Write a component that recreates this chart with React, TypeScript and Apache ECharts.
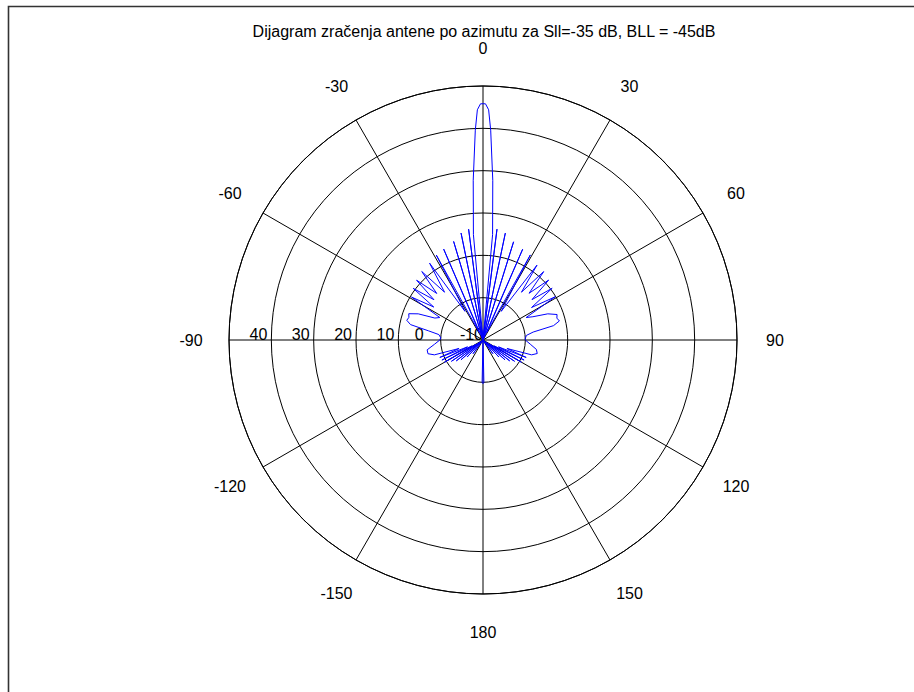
import React, { useEffect, useRef } from 'react';
import * as echarts from 'echarts';

const TITLE = 'Dijagram zračenja antene po azimutu za Sll=-35 dB, BLL = -45dB';

// [azimuth (deg), level (dB)]
const frontLeft: [number, number][] = [
  [-90, 0.2], [-87, 0], [-83, 0.5], [-80.5, 3], [-78, 7.5], [-75.5, 8.6], [-73, 8.3], [-70.5, 8.6],
  [-68, 6.5], [-65.5, 2.5], [-62.5, 1.5], [-59, 9.7], [-56.2, 4], [-53.5, 10.5], [-50.6, 5],
  [-48, 11.1], [-44.8, 5.5], [-41.8, 11.7], [-38.8, 4.5], [-34.8, 12.1], [-32.2, -2], [-28.8, 12.9],
  [-26.2, -8], [-23.4, 13.4], [-20.4, -10], [-16.6, 14.3], [-14.5, -10], [-11.6, 15.8], [-9.4, -10],
  [-7.4, 16.4], [-6.2, -10], [-5.2, 15], [-3.5, 27.8], [-2.1, 39.6], [-1.4, 44.4], [-0.6, 45.8],
];

const frontRight: [number, number][] = [
  [0, 45.8], [0.6, 45.8], [1.4, 44.4], [2.1, 39.6], [3.5, 27.8], [5.2, 15], [6.2, -10],
  [7.2, 16.4], [9.4, -10], [11.8, 15.8], [14.6, -10], [17.3, 14.3], [20.4, -10], [23.6, 13.4],
  [26.4, -8], [29.1, 13.0], [32.4, -2], [35.8, 11.8], [38.8, 4.5], [41.6, 11.6], [44.6, 5.5],
  [47.6, 11.0], [50.5, 5], [53.2, 10.4], [56.2, 3.8], [59.1, 9.9], [62.5, 1.5], [65, 3],
  [68, 6.5], [71, 8.5], [73.5, 8.2], [76, 8.6], [78.5, 7], [81, 2], [84, 0.3], [88, 0], [90, 0],
];

const backRight: [number, number][] = [
  [95, 1.2], [100, 2.8], [104, 3.2], [107, 2], [109.5, -4], [112, 1], [114, -6], [116, 0.8],
  [118, -7], [120, 0.5], [122, -8], [124, -1], [126, -9], [128, -2], [130, -10], [132, -3],
  [134, -10], [137, -4.5], [140, -10], [144, -6], [148, -10], [177, -10], [178.8, 0], [180, 0.3],
];

const backLeft: [number, number][] = [
  [-178.8, 0], [-177, -10], [-148, -10], [-144, -6], [-140, -10], [-137, -4.5], [-134, -10],
  [-132, -3], [-130, -10], [-128, -2], [-126, -9], [-124, -1], [-122, -8], [-120, 0.5],
  [-118, -7], [-116, 0.8], [-114, -6], [-112, 1], [-109.5, -4], [-107, 2], [-104, 3.4],
  [-100, 3.4], [-95, 1.5], [-90, 0.2],
];

const radialTickLabels = ['-10', '0', '10', '20', '30', '40'];
const RADIUS_MIN = -10;
const RADIUS_MAX = 50;
const RADIUS_STEP = 10;
const ANGLE_MIN = -90;
const ANGLE_MAX = 270;
const ANGLE_STEP = 30;

const FONT = 'Liberation Sans, Arial, Helvetica, sans-serif';

export default function App() {
  const ref = useRef<HTMLDivElement>(null);

  useEffect(() => {
    if (!ref.current) return;
    const chart = echarts.init(ref.current, null, { renderer: 'svg' });
    const wrap = (a: number) => (a < ANGLE_MIN ? a + 360 : a);
    const data = [...frontLeft, ...frontRight, ...backRight, ...backLeft].map(([a, g]) => [g, wrap(a)]);

    chart.setOption({
      animation: false,
      backgroundColor: '#ffffff',
      polar: { center: [483, 340], radius: 254 },
      angleAxis: {
        type: 'value',
        min: ANGLE_MIN,
        max: ANGLE_MAX,
        interval: ANGLE_STEP,
        startAngle: 180,
        clockwise: true,
        axisLine: { show: true, lineStyle: { color: '#000', width: 1 } },
        axisTick: { show: false },
        splitLine: { show: true, lineStyle: { color: '#000', width: 1 } },
        axisLabel: {
          margin: 37,
          fontSize: 16,
          fontFamily: FONT,
          color: '#000',
          formatter: (v: number) => '{c|' + String(v > 180 ? v - 360 : v) + '}',
          rich: {
            c: {
              fontSize: 16,
              fontFamily: FONT,
              color: '#000',
              width: 2,
              height: 2,
              lineHeight: 2,
              align: 'center',
              verticalAlign: 'middle',
            },
          },
        },
      },
      radiusAxis: {
        type: 'value',
        min: RADIUS_MIN,
        max: RADIUS_MAX,
        interval: RADIUS_STEP,
        axisLine: { show: false },
        axisTick: { show: false },
        splitLine: { show: true, lineStyle: { color: '#000', width: 1 } },
        axisLabel: {
          show: true,
          margin: 2,
          fontSize: 16,
          fontFamily: FONT,
          color: '#000',
          align: 'right',
          verticalAlign: 'bottom',
          formatter: (v: number) => {
            const s = String(v);
            if (!radialTickLabels.includes(s)) return '';
            if (s === '0') return '{z|0}';
            if (s === '-10') return '{c|-10}';
            return '{n|' + s + '}';
          },
          rich: {
            n: { fontSize: 16, fontFamily: FONT, color: '#000', padding: [0, 4, 0, 0] },
            z: { fontSize: 16, fontFamily: FONT, color: '#000', padding: [0, 17, 0, 0] },
            c: { fontSize: 16, fontFamily: FONT, color: '#000', padding: [0, 0, 0, 0] },
          },
        },
      },
      graphic: [
        {
          type: 'rect',
          silent: true,
          shape: { x: 8.5, y: 6.5, width: 1000, height: 1000 },
          style: { fill: 'none', stroke: '#333', lineWidth: 1.6 },
        },
        {
          type: 'text',
          silent: true,
          x: 484,
          y: 31,
          style: {
            text: TITLE,
            fontSize: 16,
            fontFamily: FONT,
            fill: '#000',
            textAlign: 'center',
            textVerticalAlign: 'middle',
          },
        },
      ],
      series: [
        {
          type: 'line',
          coordinateSystem: 'polar',
          data,
          symbol: 'none',
          smooth: false,
          clip: false,
          lineStyle: { color: '#0000ff', width: 1 },
          z: 5,
        },
      ],
    });

    return () => chart.dispose();
  }, []);

  return (
    <div
      ref={ref}
      style={{ position: 'absolute', left: 0, top: 0, width: 914, height: 692, background: '#fff' }}
    />
  );
}
